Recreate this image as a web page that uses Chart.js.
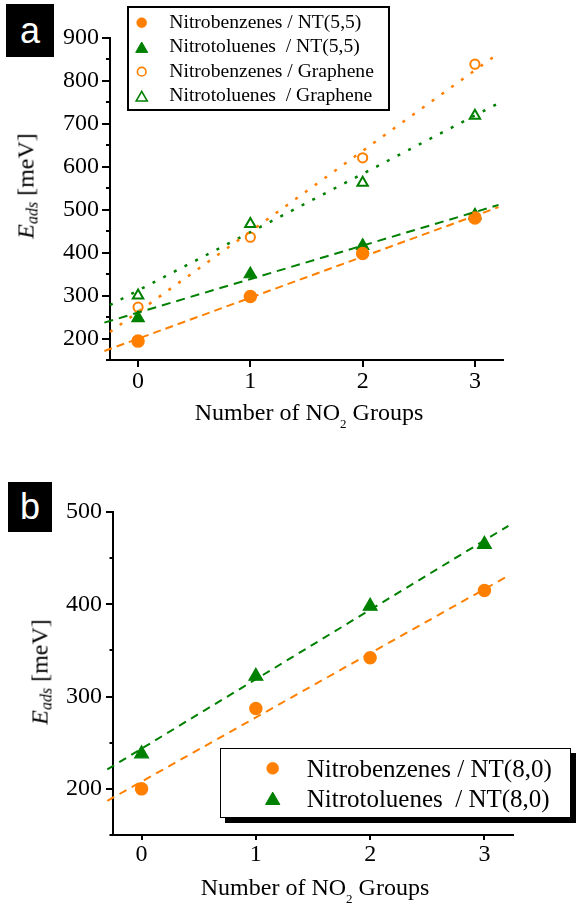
<!DOCTYPE html>
<html>
<head>
<meta charset="utf-8">
<script src="https://cdn.jsdelivr.net/npm/chart.js@4.4.1/dist/chart.umd.min.js"></script>
<style>
  html, body { margin: 0; padding: 0; background: #fff; }
  body { width: 576px; height: 905px; position: relative; overflow: hidden; font-family: "Liberation Serif", "Times New Roman", serif; color: #000; }
  canvas { position: absolute; left: 0; }
  .tag { position: absolute; background: #000; color: #fff; font-family: "Liberation Sans", Arial, sans-serif; font-size: 36px; text-align: center; }
  .xt { position: absolute; font-size: 24px; line-height: 24px; white-space: pre; transform: translateX(-50%); }
  .yt { position: absolute; font-size: 24px; line-height: 24px; white-space: pre; transform: translate(-50%, -50%) rotate(-90deg); }
  .legend { position: absolute; box-sizing: border-box; background: #fff; border: 2px solid #000; }
  .ltxt { position: absolute; white-space: pre; }
  svg.mk { position: absolute; left: 0; top: 0; overflow: visible; }
</style>
</head>
<body>
<canvas id="ca" width="576" height="440" style="top:0px;width:576px;height:440px"></canvas>
<canvas id="cb" width="576" height="445" style="top:460px;width:576px;height:445px"></canvas>

<div class="tag" style="left:6px;top:4px;width:48px;height:53px;line-height:53px;">a</div>
<div class="tag" style="left:8px;top:482px;width:44px;height:50px;line-height:50px;">b</div>

<div class="xt" style="left:309px;top:400px;">Number of NO<span style="font-size:13px;position:relative;top:8px;">2</span> Groups</div>
<div class="xt" style="left:315px;top:875px;">Number of NO<span style="font-size:13px;position:relative;top:8px;">2</span> Groups</div>
<div class="yt" style="left:27px;top:186px;"><i>E</i><span style="font-size:16px;position:relative;top:4px;font-style:italic;">ads</span> [meV]</div>
<div class="yt" style="left:41px;top:672px;"><i>E</i><span style="font-size:16px;position:relative;top:4px;font-style:italic;">ads</span> [meV]</div>

<div id="legA" class="legend" style="left:127px;top:6px;width:263px;height:105px;"></div>
<div id="legB" class="legend" style="left:220px;top:748px;width:351px;height:70px;border-width:1.5px;box-shadow:5px 5px 0 #000;"></div>
<svg id="mk" class="mk" width="576" height="905"></svg>
<div id="texts"></div>

<script>
// ---------------- data ----------------
const xCats = [0, 1, 2, 3];
const xTickVals = [0, 1, 2, 3];
const yTicksA = [150, 200, 250, 300, 350, 400, 450, 500, 550, 600, 650, 700, 750, 800, 850, 900];
const yTicksB = [150, 200, 250, 300, 350, 400, 450, 500];

// panel a
const nbNT55 = [194, 298, 398, 481];
const ntNT55 = [248, 350, 416, 487];
const nbGraphene = [273, 436, 621, 839];
const ntGraphene = [300, 467, 563, 719];
// panel b
const nbNT80 = [200, 287, 342, 415];
const ntNT80 = [238, 322, 398, 465];

// straight fit lines (end points)
const fitXDashA = [-0.3, 3.21];
const fitXDotA = [-0.25, 3.21];
const fitNbNT55 = [171, 506];
const fitNtNT55 = [237, 511];
const fitNbGraphene = [215, 864];
const fitNtGraphene = [278, 748];
const fitXB = [-0.3, 3.21];
const fitNbNT80 = [187, 431];
const fitNtNT80 = [221, 485];

const labelsA = ['Nitrobenzenes / NT(5,5)', 'Nitrotoluenes  / NT(5,5)', 'Nitrobenzenes / Graphene', 'Nitrotoluenes  / Graphene'];
const labelsB = ['Nitrobenzenes / NT(8,0)', 'Nitrotoluenes  / NT(8,0)'];

// ---------------- styling ----------------
const ORANGE = '#ff8000';
const GREEN = '#008000';
const FONT = '"Liberation Serif", "Times New Roman", serif';

const pts = (xs, ys) => xs.map((x, i) => ({ x: x, y: ys[i] }));

function pointSet(label, vals, style, color, filled, r, bw) {
  return {
    label: label, data: pts(xCats, vals), showLine: false, order: 1,
    pointStyle: style, pointRadius: r, pointHoverRadius: r,
    pointBackgroundColor: filled ? color : '#ffffff',
    pointBorderColor: color, pointBorderWidth: bw
  };
}
function fitSet(xs, vals, color, dash, w) {
  return {
    label: '', data: pts(xs, vals), showLine: true, order: 0, clip: 14,
    pointRadius: 0, pointHoverRadius: 0, borderColor: color, borderWidth: w,
    borderDash: dash, borderCapStyle: 'butt', fill: false, tension: 0
  };
}

const tickMarks = {
  id: 'tickMarks',
  afterDraw(chart, args, o) {
    const ctx = chart.ctx, xs = chart.scales.x, ys = chart.scales.y;
    ctx.save();
    ctx.strokeStyle = '#000';
    ctx.lineWidth = 2;
    ctx.beginPath();
    xs.ticks.forEach(t => {
      const px = Math.round(xs.getPixelForValue(t.value));
      ctx.moveTo(px, xs.top); ctx.lineTo(px, xs.top + o.xLen);
    });
    ys.ticks.forEach(t => {
      const py = Math.round(ys.getPixelForValue(t.value));
      const len = (t.value % 100 === 0) ? o.yMajor : o.yMinor;
      ctx.moveTo(ys.right, py); ctx.lineTo(ys.right - len, py);
    });
    ctx.stroke();
    ctx.restore();
  }
};

function makeOptions(cfg) {
  return {
    responsive: false, animation: false, devicePixelRatio: 1,
    layout: { padding: cfg.padding },
    plugins: { legend: { display: false }, tooltip: { enabled: false }, tickMarks: cfg.ticks },
    scales: {
      x: {
        type: 'linear', min: -0.25, max: 3.25,
        afterBuildTicks: s => { s.ticks = xTickVals.map(v => ({ value: v })); },
        afterFit: s => { s.height = cfg.xH; },
        grid: { display: true, drawOnChartArea: false, drawTicks: false },
        border: { display: true, color: '#000', width: 2 },
        ticks: { color: '#000', font: { family: FONT, size: 24 }, padding: cfg.xPad, maxRotation: 0, autoSkip: false }
      },
      y: {
        type: 'linear', min: cfg.yMin, max: cfg.yMax,
        afterBuildTicks: s => { s.ticks = cfg.yTicks.map(v => ({ value: v })); },
        afterFit: s => { s.width = cfg.yW; },
        grid: { display: true, drawOnChartArea: false, drawTicks: false },
        border: { display: true, color: '#000', width: 2 },
        ticks: { color: '#000', font: { family: FONT, size: 24 }, padding: cfg.yPad, autoSkip: false,
                 callback: v => (v % 100 === 0 ? String(v) : '') }
      }
    }
  };
}

// ---------------- chart a ----------------
const chartA = new Chart(document.getElementById('ca'), {
  type: 'scatter',
  data: {
    datasets: [
      fitSet(fitXDashA, fitNbNT55, ORANGE, [8, 5], 2),
      fitSet(fitXDashA, fitNtNT55, GREEN, [9, 6], 2),
      fitSet(fitXDotA, fitNbGraphene, ORANGE, [3, 9], 2.5),
      fitSet(fitXDotA, fitNtGraphene, GREEN, [3, 9], 2.5),
      pointSet(labelsA[0], nbNT55, 'circle', ORANGE, true, 6, 1.5),
      pointSet(labelsA[1], ntNT55, 'triangle', GREEN, true, 7.2, 1.2),
      pointSet(labelsA[2], nbGraphene, 'circle', ORANGE, false, 4.6, 2),
      pointSet(labelsA[3], ntGraphene, 'triangle', GREEN, false, 6, 2)
    ]
  },
  options: makeOptions({
    padding: { left: 0, right: 73, top: 38, bottom: 0 },
    xH: 80, yW: 110, xPad: 7, yPad: 11, yMin: 150, yMax: 900, yTicks: yTicksA,
    ticks: { xLen: 7, yMajor: 8, yMinor: 4 }
  }),
  plugins: [tickMarks]
});

// ---------------- chart b ----------------
const chartB = new Chart(document.getElementById('cb'), {
  type: 'scatter',
  data: {
    datasets: [
      fitSet(fitXB, fitNbNT80, ORANGE, [8, 6], 2),
      fitSet(fitXB, fitNtNT80, GREEN, [8, 6], 2),
      pointSet(labelsB[0], nbNT80, 'circle', ORANGE, true, 6, 1.5),
      pointSet(labelsB[1], ntNT80, 'triangle', GREEN, true, 8, 1.2)
    ]
  },
  options: makeOptions({
    padding: { left: 0, right: 63, top: 52, bottom: 0 },
    xH: 70, yW: 113, xPad: 5, yPad: 11, yMin: 150, yMax: 500, yTicks: yTicksB,
    ticks: { xLen: 5, yMajor: 7, yMinor: 3.5 }
  }),
  plugins: [tickMarks]
});

// ---------------- legends (HTML, built from the datasets) ----------------
const svg = document.getElementById('mk');
const texts = document.getElementById('texts');
const NS = 'http://www.w3.org/2000/svg';
function marker(kind, cx, cy, size, color, filled, sw) {
  let el;
  if (kind === 'circle') {
    el = document.createElementNS(NS, 'circle');
    el.setAttribute('cx', cx); el.setAttribute('cy', cy); el.setAttribute('r', size);
  } else {
    const w = size, h = size * 0.866;
    el = document.createElementNS(NS, 'polygon');
    el.setAttribute('points', `${cx},${cy - h / 2} ${cx - w / 2},${cy + h / 2} ${cx + w / 2},${cy + h / 2}`);
  }
  el.setAttribute('fill', filled ? color : '#fff');
  el.setAttribute('stroke', color);
  el.setAttribute('stroke-width', sw);
  svg.appendChild(el);
}
function text(str, left, top, size, lh) {
  const d = document.createElement('div');
  d.className = 'ltxt';
  d.textContent = str;
  d.style.left = left + 'px'; d.style.top = top + 'px';
  d.style.fontSize = size + 'px'; d.style.lineHeight = lh + 'px';
  texts.appendChild(d);
}

// legend a
const legAitems = chartA.data.datasets.filter(d => d.label);
const legAmk = [['circle', 5, true, 0.5], ['tri', 12, true, 1], ['circle', 4.3, false, 1.6], ['tri', 11, false, 1.6]];
legAitems.forEach((d, i) => {
  const cy = 22.7 + i * 24.5;
  const m = legAmk[i];
  marker(m[0], 141.7, cy, m[1], d.pointBorderColor, m[2], m[3]);
  text(d.label, 169.3, 11.7 + i * 24.5, 19.6, 20);
});

// legend b
const legBitems = chartB.data.datasets.filter(d => d.label);
const legBmk = [['circle', 6, true, 0.5], ['tri', 14.3, true, 1]];
legBitems.forEach((d, i) => {
  const cy = 768.3 + i * 30;
  const m = legBmk[i];
  marker(m[0], 272.7, cy, m[1], d.pointBorderColor, m[2], m[3]);
  text(d.label, 306.7, 755.8 + i * 30.6, 25, 25);
});
</script>
</body>
</html>
